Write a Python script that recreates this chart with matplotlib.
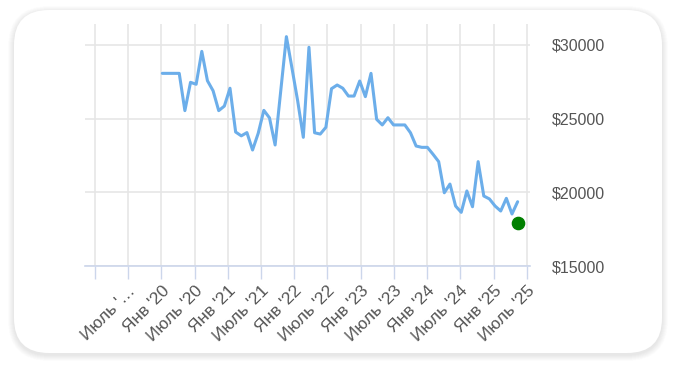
import matplotlib
matplotlib.use('Agg')
import matplotlib.pyplot as plt
from matplotlib.patches import FancyBboxPatch
from matplotlib.transforms import IdentityTransform
import pandas as pd

plt.rcParams['font.family'] = ['Liberation Sans', 'DejaVu Sans']

# ---- data ----
values = [28070, 28070, 28070, 28070, 25540, 27460, 27330, 29560, 27570, 26890,
          25540, 25850, 27060, 24090, 23830, 24050, 22870, 24000, 25560, 25050,
          23210, 26890, 30560, 28400, 26200, 23730, 29840, 24040, 23950, 24410,
          27030, 27280, 27060, 26530, 26530, 27550, 26490, 28070, 24950, 24570,
          25060, 24570, 24570, 24570, 24040, 23140, 23050, 23050, 22580, 22080,
          19970, 20560, 19070, 18640, 20090, 19020, 22080, 19750, 19550, 19070,
          18730, 19590, 18530, 19360]
start_date = '2020-01-06'
step = '31D'
last_value = 17940

tick_dates = pd.date_range('2019-01-01', '2025-07-01', freq='6MS')
tick_labels = ['', "Июль '…", "Янв '20", "Июль '20", "Янв '21", "Июль '21",
               "Янв '22", "Июль '22", "Янв '23", "Июль '23", "Янв '24",
               "Июль '24", "Янв '25", "Июль '25"]
y_ticks = [15000, 20000, 25000, 30000]
y_labels = ['$15000', '$20000', '$25000', '$30000']

dates = pd.date_range(start_date, periods=len(values), freq=step)

W, H = 676, 372
fig = plt.figure(figsize=(W / 100, H / 100), dpi=100)
fig.patch.set_facecolor('white')

# card with soft shadow (pixel coordinates)
cx0, cy0, cw, ch, r = 14, 19, 648, 343, 35
for i in range(12, 0, -1):
    sh = FancyBboxPatch((cx0 - i * 0.5, cy0 - 2 - i * 0.5), cw + i * 1.0, ch + i * 1.0,
                        boxstyle=f'round,pad=0,rounding_size={r + i * 0.5}',
                        transform=IdentityTransform(), facecolor='black',
                        edgecolor='none', alpha=0.008, zorder=-3)
    fig.patches.append(sh)
card = FancyBboxPatch((cx0, cy0), cw, ch, boxstyle=f'round,pad=0,rounding_size={r}',
                      transform=IdentityTransform(), facecolor='white',
                      edgecolor='none', zorder=-2)
fig.patches.append(card)

ax = fig.add_axes([85 / W, 1 - 266 / H, (530 - 85) / W, (266 - 24) / H])
ax.set_facecolor('none')
ax.set_zorder(2)

ax.plot(dates, values, color='#6caeea', lw=2.2, solid_joinstyle='round',
        solid_capstyle='round', zorder=3)
ax.plot([dates[-1]], [last_value], 'o', color='#008000', ms=8.8, zorder=4)

ax.set_ylim(15000, 31418)
ax.set_xlim(pd.Timestamp('2018-11-07'), pd.Timestamp('2025-07-19'))

ax.set_yticks(y_ticks)
ax.set_yticklabels(y_labels)
ax.yaxis.tick_right()
ax.tick_params(axis='y', length=0, pad=16, labelsize=11.5, labelcolor='#555555')

ax.set_xticks(tick_dates)
ax.set_xticklabels(tick_labels, rotation=45, ha='right', va='top',
                   rotation_mode='anchor')
ax.tick_params(axis='x', length=9.5, width=1, color='#ccd6eb', pad=3,
               labelsize=12.4, labelcolor='#555555')

ax.grid(True, color='#e6e6e6', lw=1.2, zorder=1)
ax.set_axisbelow(True)
for s in ['top', 'left', 'right']:
    ax.spines[s].set_visible(False)
ax.spines['bottom'].set_color('#ccd6eb')
ax.spines['bottom'].set_linewidth(1.2)

fig.savefig('out.png', dpi=100)
